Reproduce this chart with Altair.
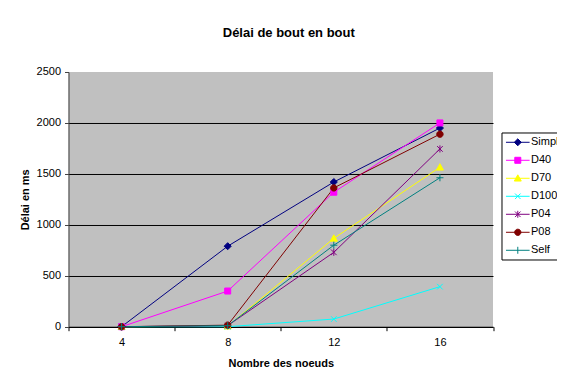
import altair as alt
import pandas as pd

series = ["Simple", "D40", "D70", "D100", "P04", "P08", "Self"]
nodes = [4, 8, 12, 16]
simple = [0, 790, 1420, 1950]
d40 = [0, 350, 1320, 2000]
d70 = [0, 5, 867, 1565]
d100 = [0, 0, 75, 393]
p04 = [0, 10, 730, 1745]
p08 = [0, 15, 1362, 1890]
self_ = [0, 10, 800, 1462]
values = [simple, d40, d70, d100, p04, p08, self_]
colors = ["#000080", "#FF00FF", "#FFFF00", "#00FFFF", "#800080", "#800000", "#008080"]

rows = []
for s, vals in zip(series, values):
    for n, v in zip(nodes, vals):
        rows.append({"series": s, "nodes": n, "delay": v})
df = pd.DataFrame(rows)

marker_paths = [
    "M0,-1L1,0L0,1L-1,0Z",
    "M-0.85,-0.85H0.85V0.85H-0.85Z",
    "M0,-1L1,0.8L-1,0.8Z",
    "M-0.8,-0.8L0.8,0.8M-0.8,0.8L0.8,-0.8",
    "M-0.8,-0.8L0.8,0.8M-0.8,0.8L0.8,-0.8M0,-1V1",
    "M-0.9,0A0.9,0.9 0 1,1 0.9,0A0.9,0.9 0 1,1 -0.9,0Z",
    "M-1,0H1M0,-1V1",
]
line_seg = "M-1.97,0H1.97"
legend_marks = [
    "M0,-0.58L0.58,0L0,0.58L-0.58,0Z",
    "M-0.5,-0.5H0.5V0.5H-0.5Z",
    "M0,-0.58L0.58,0.46L-0.58,0.46Z",
    "M-0.46,-0.46L0.46,0.46M-0.46,0.46L0.46,-0.46",
    "M-0.46,-0.46L0.46,0.46M-0.46,0.46L0.46,-0.46M0,-0.58V0.58",
    "M-0.52,0A0.52,0.52 0 1,1 0.52,0A0.52,0.52 0 1,1 -0.52,0Z",
    "M0,-0.58V0.58",
]
legend_paths = [line_seg + m for m in legend_marks]

legend = alt.Legend(
    title=None, orient="none", legendX=433, legendY=60.5,
    padding=3.3, strokeColor="black", fillColor="white",
    symbolSize=144, symbolOffset=6.5, labelOffset=6.7, rowPadding=6,
    labelFontSize=11, labelFont="Liberation Sans", labelColor="black",
    symbolStrokeWidth=1, symbolOpacity=1, labelLimit=200,
)

def cscale():
    return alt.Scale(domain=series, range=colors)

x_enc = alt.X("nodes:Q", scale=alt.Scale(domain=[2, 18], nice=False, zero=False),
              axis=alt.Axis(values=[2, 4, 6, 8, 10, 12, 14, 16, 18],
                            labelExpr="datum.value % 4 == 0 ? datum.label : ''",
                            tickOpacity={"condition": {"test": "datum.value % 4 == 0", "value": 0}, "value": 1},
                            grid=False, tickSize=4, labelPadding=6, title="Nombre des noeuds",
                            titlePadding=10, domainColor="black", tickColor="black"))
y_enc = alt.Y("delay:Q", scale=alt.Scale(domain=[0, 2500], nice=False),
              axis=alt.Axis(values=[0, 500, 1000, 1500, 2000, 2500], title="Délai en ms", format="d",
                            gridColor="black",
                            gridOpacity={"condition": {"test": "datum.value == 2500", "value": 0}, "value": 1},
                            tickSize=4, labelPadding=4, titlePadding=6,
                            domainColor="#404040", tickColor="#404040"))

lines = alt.Chart(df).mark_line(strokeWidth=1).encode(
    x=x_enc, y=y_enc,
    color=alt.Color("series:N", scale=cscale(), legend=None),
    detail="series:N",
)
points = alt.Chart(df).mark_point(filled=True, size=50, strokeWidth=1, opacity=1).encode(
    x=x_enc, y=y_enc,
    color=alt.Color("series:N", scale=cscale(), legend=None),
    stroke=alt.Stroke("series:N", scale=cscale(), legend=None),
    shape=alt.Shape("series:N", scale=alt.Scale(domain=series, range=marker_paths), legend=None),
)
legend_layer = alt.Chart(df).mark_point(filled=True, size=144, strokeWidth=1, opacity=0).encode(
    x=x_enc, y=y_enc,
    color=alt.Color("series:N", scale=cscale(), legend=legend),
    stroke=alt.Stroke("series:N", scale=cscale(), legend=legend),
    shape=alt.Shape("series:N", scale=alt.Scale(domain=series, range=legend_paths), legend=legend),
)

chart = alt.layer(lines, points, legend_layer).resolve_scale(
    color="independent", stroke="independent", shape="independent"
).resolve_legend(color="independent", stroke="independent", shape="independent").properties(
    width=424.5, height=254.7,
    title=alt.TitleParams("Délai de bout en bout", fontSize=13, fontWeight="bold",
                          font="Liberation Sans", color="black", offset=26, dx=8),
    autosize=alt.AutoSizeParams(type="none"),
    padding={"left": 60.5, "top": 64, "right": 64, "bottom": 43},
).configure_view(fill="#C0C0C0", stroke=None).configure_axis(
    labelFont="Liberation Sans", labelFontSize=11, labelColor="black",
    titleFont="Liberation Sans", titleFontSize=11, titleFontWeight="bold", titleColor="black",
)

chart.save("out.html", embed_options={"renderer": "svg", "actions": False})
